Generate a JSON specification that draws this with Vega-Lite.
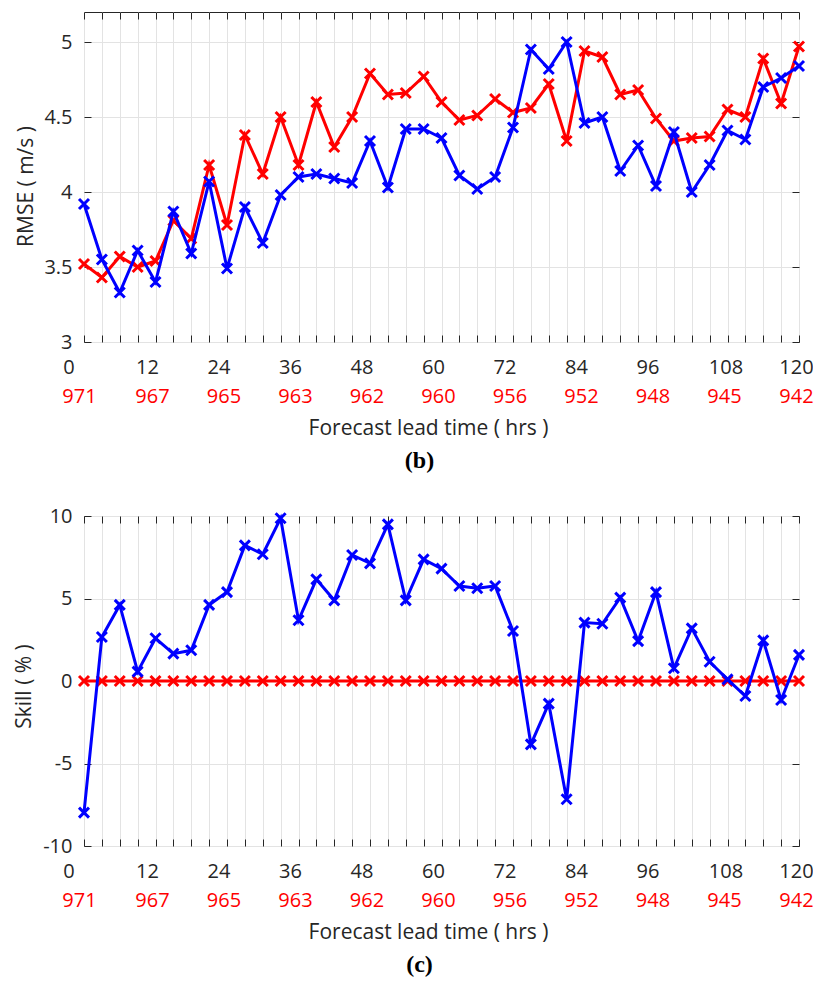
{
  "$schema": "https://vega.github.io/schema/vega-lite/v6.json",
  "padding": {"left": 13, "top": 11, "right": 0, "bottom": 5},
  "spacing": 32,
  "config": {
    "font": "Open Sans",
    "view": {"stroke": "#262626", "strokeWidth": 1},
    "axis": {
      "labelFont": "Open Sans", "labelFontSize": 20, "labelColor": "#262626",
      "titleFont": "Open Sans", "titleFontSize": 21, "titleFontWeight": "normal", "titleColor": "#262626",
      "domain": false, "gridColor": "#e3e3e3", "gridWidth": 1,
      "tickColor": "#262626", "tickSize": -7, "tickWidth": 1
    }
  },
  "datasets": {
    "series": [
      {"hour": 0, "series": "CTRL", "rmse": 3.52, "skill": 0},
      {"hour": 3, "series": "CTRL", "rmse": 3.43, "skill": 0},
      {"hour": 6, "series": "CTRL", "rmse": 3.57, "skill": 0},
      {"hour": 9, "series": "CTRL", "rmse": 3.50, "skill": 0},
      {"hour": 12, "series": "CTRL", "rmse": 3.54, "skill": 0},
      {"hour": 15, "series": "CTRL", "rmse": 3.81, "skill": 0},
      {"hour": 18, "series": "CTRL", "rmse": 3.69, "skill": 0},
      {"hour": 21, "series": "CTRL", "rmse": 4.18, "skill": 0},
      {"hour": 24, "series": "CTRL", "rmse": 3.78, "skill": 0},
      {"hour": 27, "series": "CTRL", "rmse": 4.38, "skill": 0},
      {"hour": 30, "series": "CTRL", "rmse": 4.12, "skill": 0},
      {"hour": 33, "series": "CTRL", "rmse": 4.50, "skill": 0},
      {"hour": 36, "series": "CTRL", "rmse": 4.18, "skill": 0},
      {"hour": 39, "series": "CTRL", "rmse": 4.60, "skill": 0},
      {"hour": 42, "series": "CTRL", "rmse": 4.30, "skill": 0},
      {"hour": 45, "series": "CTRL", "rmse": 4.50, "skill": 0},
      {"hour": 48, "series": "CTRL", "rmse": 4.79, "skill": 0},
      {"hour": 51, "series": "CTRL", "rmse": 4.65, "skill": 0},
      {"hour": 54, "series": "CTRL", "rmse": 4.66, "skill": 0},
      {"hour": 57, "series": "CTRL", "rmse": 4.77, "skill": 0},
      {"hour": 60, "series": "CTRL", "rmse": 4.60, "skill": 0},
      {"hour": 63, "series": "CTRL", "rmse": 4.48, "skill": 0},
      {"hour": 66, "series": "CTRL", "rmse": 4.51, "skill": 0},
      {"hour": 69, "series": "CTRL", "rmse": 4.62, "skill": 0},
      {"hour": 72, "series": "CTRL", "rmse": 4.53, "skill": 0},
      {"hour": 75, "series": "CTRL", "rmse": 4.56, "skill": 0},
      {"hour": 78, "series": "CTRL", "rmse": 4.72, "skill": 0},
      {"hour": 81, "series": "CTRL", "rmse": 4.34, "skill": 0},
      {"hour": 84, "series": "CTRL", "rmse": 4.94, "skill": 0},
      {"hour": 87, "series": "CTRL", "rmse": 4.90, "skill": 0},
      {"hour": 90, "series": "CTRL", "rmse": 4.65, "skill": 0},
      {"hour": 93, "series": "CTRL", "rmse": 4.68, "skill": 0},
      {"hour": 96, "series": "CTRL", "rmse": 4.49, "skill": 0},
      {"hour": 99, "series": "CTRL", "rmse": 4.34, "skill": 0},
      {"hour": 102, "series": "CTRL", "rmse": 4.36, "skill": 0},
      {"hour": 105, "series": "CTRL", "rmse": 4.37, "skill": 0},
      {"hour": 108, "series": "CTRL", "rmse": 4.55, "skill": 0},
      {"hour": 111, "series": "CTRL", "rmse": 4.50, "skill": 0},
      {"hour": 114, "series": "CTRL", "rmse": 4.89, "skill": 0},
      {"hour": 117, "series": "CTRL", "rmse": 4.59, "skill": 0},
      {"hour": 120, "series": "CTRL", "rmse": 4.97, "skill": 0},
      {"hour": 0, "series": "EXP", "rmse": 3.92, "skill": -7.98},
      {"hour": 3, "series": "EXP", "rmse": 3.55, "skill": 2.67},
      {"hour": 6, "series": "EXP", "rmse": 3.33, "skill": 4.61},
      {"hour": 9, "series": "EXP", "rmse": 3.61, "skill": 0.57},
      {"hour": 12, "series": "EXP", "rmse": 3.40, "skill": 2.59},
      {"hour": 15, "series": "EXP", "rmse": 3.87, "skill": 1.66},
      {"hour": 18, "series": "EXP", "rmse": 3.59, "skill": 1.86},
      {"hour": 21, "series": "EXP", "rmse": 4.07, "skill": 4.61},
      {"hour": 24, "series": "EXP", "rmse": 3.49, "skill": 5.39},
      {"hour": 27, "series": "EXP", "rmse": 3.90, "skill": 8.22},
      {"hour": 30, "series": "EXP", "rmse": 3.66, "skill": 7.68},
      {"hour": 33, "series": "EXP", "rmse": 3.98, "skill": 9.86},
      {"hour": 36, "series": "EXP", "rmse": 4.10, "skill": 3.68},
      {"hour": 39, "series": "EXP", "rmse": 4.12, "skill": 6.16},
      {"hour": 42, "series": "EXP", "rmse": 4.09, "skill": 4.89},
      {"hour": 45, "series": "EXP", "rmse": 4.06, "skill": 7.64},
      {"hour": 48, "series": "EXP", "rmse": 4.34, "skill": 7.13},
      {"hour": 51, "series": "EXP", "rmse": 4.03, "skill": 9.49},
      {"hour": 54, "series": "EXP", "rmse": 4.42, "skill": 4.89},
      {"hour": 57, "series": "EXP", "rmse": 4.42, "skill": 7.37},
      {"hour": 60, "series": "EXP", "rmse": 4.36, "skill": 6.81},
      {"hour": 63, "series": "EXP", "rmse": 4.11, "skill": 5.76},
      {"hour": 66, "series": "EXP", "rmse": 4.02, "skill": 5.62},
      {"hour": 69, "series": "EXP", "rmse": 4.10, "skill": 5.76},
      {"hour": 72, "series": "EXP", "rmse": 4.43, "skill": 3.03},
      {"hour": 75, "series": "EXP", "rmse": 4.95, "skill": -3.84},
      {"hour": 78, "series": "EXP", "rmse": 4.82, "skill": -1.37},
      {"hour": 81, "series": "EXP", "rmse": 5.00, "skill": -7.17},
      {"hour": 84, "series": "EXP", "rmse": 4.46, "skill": 3.54},
      {"hour": 87, "series": "EXP", "rmse": 4.50, "skill": 3.47},
      {"hour": 90, "series": "EXP", "rmse": 4.14, "skill": 5.05},
      {"hour": 93, "series": "EXP", "rmse": 4.31, "skill": 2.42},
      {"hour": 96, "series": "EXP", "rmse": 4.04, "skill": 5.39},
      {"hour": 99, "series": "EXP", "rmse": 4.40, "skill": 0.77},
      {"hour": 102, "series": "EXP", "rmse": 4.00, "skill": 3.19},
      {"hour": 105, "series": "EXP", "rmse": 4.18, "skill": 1.17},
      {"hour": 108, "series": "EXP", "rmse": 4.41, "skill": 0.10},
      {"hour": 111, "series": "EXP", "rmse": 4.35, "skill": -0.91},
      {"hour": 114, "series": "EXP", "rmse": 4.70, "skill": 2.46},
      {"hour": 117, "series": "EXP", "rmse": 4.76, "skill": -1.15},
      {"hour": 120, "series": "EXP", "rmse": 4.84, "skill": 1.58}
    ],
    "pressure": [
      {"hour": 0, "pressure": 971},
      {"hour": 12, "pressure": 967},
      {"hour": 24, "pressure": 965},
      {"hour": 36, "pressure": 963},
      {"hour": 48, "pressure": 962},
      {"hour": 60, "pressure": 960},
      {"hour": 72, "pressure": 956},
      {"hour": 84, "pressure": 952},
      {"hour": 96, "pressure": 948},
      {"hour": 108, "pressure": 945},
      {"hour": 120, "pressure": 942}
    ]
  },
  "vconcat": [
    {
      "width": 715, "height": 330,
      "title": {"text": "(b)", "orient": "bottom", "frame": "group", "dx": -22, "fontSize": 24, "fontWeight": "bold", "color": "#000000", "offset": 10, "font": "Liberation Serif"},
      "resolve": {"scale": {"x": "independent"}, "axis": {"x": "independent", "y": "independent"}},
      "layer": [
        {
          "data": {"name": "series"},
          "encoding": {
            "x": {"field": "hour", "type": "quantitative", "scale": {"domain": [0, 120], "nice": false},
              "axis": {"values": [0,3,6,9,12,15,18,21,24,27,30,33,36,39,42,45,48,51,54,57,60,63,66,69,72,75,78,81,84,87,90,93,96,99,102,105,108,111,114,117,120],
                "labelExpr": "datum.value % 12 == 0 ? '' + datum.value : ''", "title": null, "grid": true,
                "labelPadding": 22.5, "labelFlush": false, "labelOverlap": false,
                "labelOffset": {"condition": [{"test": "datum.value == 0", "value": -15.5}, {"test": "datum.value == 120", "value": -3}, {"test": "datum.value >= 108", "value": -2}], "value": -8.5}}},
            "y": {"field": "rmse", "type": "quantitative", "scale": {"domain": [3, 5.2], "nice": false},
              "axis": {"values": [3, 3.5, 4, 4.5, 5], "labelExpr": "'' + datum.value", "title": "RMSE ( m/s )", "grid": true, "labelPadding": 19, "titlePadding": 7, "titleY": 174}}
          },
          "layer": [
            {"transform": [{"filter": "datum.series == 'CTRL'"}],
              "mark": {"type": "line", "color": "#ff0000", "strokeWidth": 3,
                "point": {"shape": "M-1,-1L1,1M-1,1L1,-1", "filled": false, "size": 100, "strokeWidth": 3, "color": "#ff0000"}}},
            {"transform": [{"filter": "datum.series == 'EXP'"}],
              "mark": {"type": "line", "color": "#0000ff", "strokeWidth": 3,
                "point": {"shape": "M-1,-1L1,1M-1,1L1,-1", "filled": false, "size": 100, "strokeWidth": 3, "color": "#0000ff"}}}
          ]
        },
        {
          "data": {"name": "series"},
          "mark": {"type": "point", "opacity": 0},
          "encoding": {
            "x": {"field": "hour", "type": "quantitative", "scale": {"domain": [0, 120], "nice": false},
              "axis": {"orient": "top", "values": [0,3,6,9,12,15,18,21,24,27,30,33,36,39,42,45,48,51,54,57,60,63,66,69,72,75,78,81,84,87,90,93,96,99,102,105,108,111,114,117,120], "labels": false, "grid": false, "title": null}},
            "y": {"field": "rmse", "type": "quantitative", "scale": {"domain": [3, 5.2], "nice": false},
              "axis": {"orient": "right", "values": [3, 3.5, 4, 4.5, 5], "labels": false, "grid": false, "title": null}}
          }
        },
        {
          "data": {"name": "pressure"},
          "mark": {"type": "point", "opacity": 0},
          "encoding": {
            "x": {"field": "pressure", "type": "ordinal", "sort": "descending", "scale": {"type": "point", "padding": 0},
              "axis": {"orient": "bottom", "ticks": false, "grid": false, "labelAngle": 0, "labelColor": "#ff0000",
                "labelPadding": 44.5, "labelOffset": {"condition": [{"test": "datum.value == 942", "value": -3}, {"test": "datum.value == 971", "value": -5}], "value": -3.5},
                "title": "Forecast lead time ( hrs )", "titlePadding": 11, "titleX": 344}}
          }
        }
      ]
    },
    {
      "width": 715, "height": 330,
      "title": {"text": "(c)", "orient": "bottom", "frame": "group", "dx": -22, "fontSize": 24, "fontWeight": "bold", "color": "#000000", "offset": 10, "font": "Liberation Serif"},
      "resolve": {"scale": {"x": "independent"}, "axis": {"x": "independent", "y": "independent"}},
      "layer": [
        {
          "data": {"name": "series"},
          "encoding": {
            "x": {"field": "hour", "type": "quantitative", "scale": {"domain": [0, 120], "nice": false},
              "axis": {"values": [0,3,6,9,12,15,18,21,24,27,30,33,36,39,42,45,48,51,54,57,60,63,66,69,72,75,78,81,84,87,90,93,96,99,102,105,108,111,114,117,120],
                "labelExpr": "datum.value % 12 == 0 ? '' + datum.value : ''", "title": null, "grid": true,
                "labelPadding": 22.5, "labelFlush": false, "labelOverlap": false,
                "labelOffset": {"condition": [{"test": "datum.value == 0", "value": -15.5}, {"test": "datum.value == 120", "value": -3}, {"test": "datum.value >= 108", "value": -2}], "value": -8.5}}},
            "y": {"field": "skill", "type": "quantitative", "scale": {"domain": [-10, 10], "nice": false},
              "axis": {"values": [-10, -5, 0, 5, 10], "labelExpr": "'' + datum.value", "title": "Skill ( % )", "grid": true, "labelPadding": 19, "titlePadding": 8, "titleY": 170}}
          },
          "layer": [
            {"transform": [{"filter": "datum.series == 'CTRL'"}],
              "mark": {"type": "line", "color": "#ff0000", "strokeWidth": 3,
                "point": {"shape": "M-1,-1L1,1M-1,1L1,-1", "filled": false, "size": 100, "strokeWidth": 3, "color": "#ff0000"}}},
            {"transform": [{"filter": "datum.series == 'EXP'"}],
              "mark": {"type": "line", "color": "#0000ff", "strokeWidth": 3,
                "point": {"shape": "M-1,-1L1,1M-1,1L1,-1", "filled": false, "size": 100, "strokeWidth": 3, "color": "#0000ff"}}}
          ]
        },
        {
          "data": {"name": "series"},
          "mark": {"type": "point", "opacity": 0},
          "encoding": {
            "x": {"field": "hour", "type": "quantitative", "scale": {"domain": [0, 120], "nice": false},
              "axis": {"orient": "top", "values": [0,3,6,9,12,15,18,21,24,27,30,33,36,39,42,45,48,51,54,57,60,63,66,69,72,75,78,81,84,87,90,93,96,99,102,105,108,111,114,117,120], "labels": false, "grid": false, "title": null}},
            "y": {"field": "skill", "type": "quantitative", "scale": {"domain": [-10, 10], "nice": false},
              "axis": {"orient": "right", "values": [-10, -5, 0, 5, 10], "labels": false, "grid": false, "title": null}}
          }
        },
        {
          "data": {"name": "pressure"},
          "mark": {"type": "point", "opacity": 0},
          "encoding": {
            "x": {"field": "pressure", "type": "ordinal", "sort": "descending", "scale": {"type": "point", "padding": 0},
              "axis": {"orient": "bottom", "ticks": false, "grid": false, "labelAngle": 0, "labelColor": "#ff0000",
                "labelPadding": 44.5, "labelOffset": {"condition": [{"test": "datum.value == 942", "value": -3}, {"test": "datum.value == 971", "value": -5}], "value": -3.5},
                "title": "Forecast lead time ( hrs )", "titlePadding": 11, "titleX": 344}}
          }
        }
      ]
    }
  ]
}
